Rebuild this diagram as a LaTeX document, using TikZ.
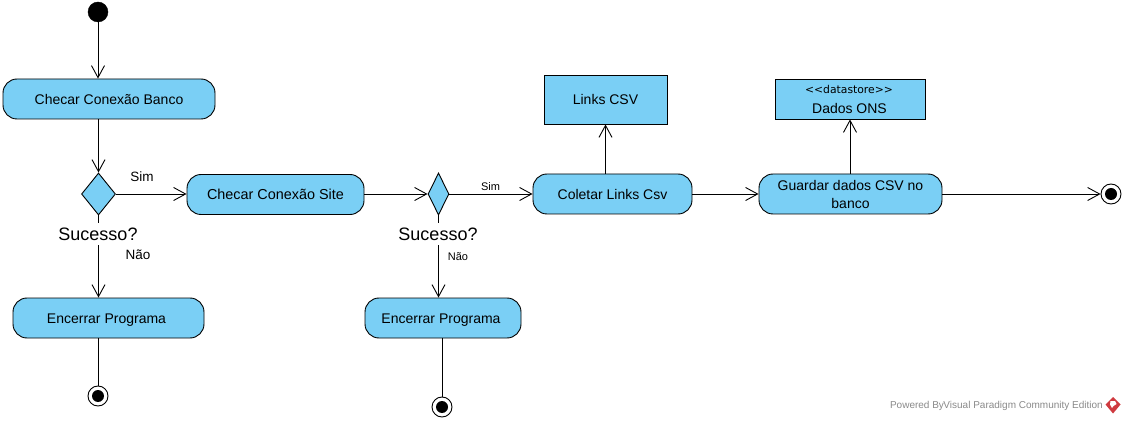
\documentclass[tikz,border=0pt]{standalone}
\usepackage{fontspec}
\setmainfont{Liberation Sans}
\newfontfamily\dvfont{DejaVu Sans}
\usetikzlibrary{arrows.meta,shapes.geometric}
\definecolor{vpblue}{HTML}{7ACFF5}
\definecolor{vpgray}{HTML}{8A8A8A}
\definecolor{vpred}{HTML}{CF3A3F}
\newcommand{\lowtext}[1]{\raisebox{-5.5pt}[0pt][0pt]{#1}}
\newcommand{\biglow}[1]{\raisebox{-6.5pt}[0pt][0pt]{#1}}
\tikzset{
  x=1pt,y=-1pt,
  edge/.style={draw=black,line width=0.9pt,-{Straight Barb[length=12pt,width=13pt,line width=0.9pt]}},
  plainedge/.style={draw=black,line width=0.9pt},
  action/.style={draw=black,fill=vpblue,line width=0.9pt,rounded corners=14pt,inner sep=0pt,font=\fontsize{14}{16}\selectfont,align=center,anchor=center},
  store/.style={draw=black,fill=vpblue,line width=0.9pt,inner sep=0pt,font=\fontsize{14}{16}\selectfont,align=center},
  decision/.style={draw=black,fill=vpblue,line width=0.9pt,diamond,inner sep=0pt,shape aspect=1},
  initnode/.style={circle,fill=black,draw=black,inner sep=0pt,minimum size=20pt},
  finalnode/.style={circle,draw=black,fill=white,line width=0.9pt,inner sep=0pt,minimum size=20pt},
  dot/.style={circle,fill=black,inner sep=0pt,minimum size=12pt},
  biglabel/.style={font=\fontsize{18}{20}\selectfont,inner sep=0pt,minimum width=80pt,minimum height=22pt},
  midlabel/.style={font=\fontsize{13.5}{15}\selectfont,inner sep=0pt},
  smalllabel/.style={font=\fontsize{11}{13}\selectfont,inner sep=0pt},
}
\begin{document}
\begin{tikzpicture}
\useasboundingbox[fill=white] (0,0) rectangle (1125,422);
% nodes
\node[initnode] (start) at (98,12) {};
\node[action,minimum width=212pt,minimum height=40pt] (banco) at (109,99) {\lowtext{Checar Conexão Banco}};
\node[decision,minimum width=34pt,minimum height=42pt] (d1) at (98.5,194) {};
\node[biglabel] (s1) at (98,234) {\biglow{Sucesso?}};
\node[midlabel] (sim1) at (142,176.5) {Sim};
\node[midlabel] (nao1) at (138,254.5) {Não};
\node[action,minimum width=191pt,minimum height=40pt] (enc1) at (108.5,318) {\lowtext{Encerrar Programa\kern4pt}};
\node[finalnode] (end1) at (98,396) {};
\node[dot] at (end1.center) {};
\node[action,minimum width=177pt,minimum height=40pt] (site) at (275.5,194.5) {\lowtext{\fontsize{14.4}{16}\selectfont Checar Conexão Site}};
\node[decision,minimum width=21pt,minimum height=42pt] (d2) at (438.5,194) {};
\node[biglabel] (s2) at (438,234) {\biglow{Sucesso?}};
\node[smalllabel] (sim2) at (490.5,186.5) {Sim};
\node[smalllabel] (nao2) at (458,256.5) {Não};
\node[action,minimum width=156pt,minimum height=40pt] (enc2) at (443,318) {\lowtext{Encerrar Programa\kern4pt}};
\node[finalnode] (end2) at (442,407) {};
\node[dot] at (end2.center) {};
\node[action,minimum width=159pt,minimum height=40pt] (coletar) at (612.5,194) {\lowtext{Coletar Links Csv}};
\node[store,minimum width=123pt,minimum height=49pt] (links) at (605.5,99.5) {\lowtext{Links CSV}};
\node[action,minimum width=183pt,minimum height=40pt] (guardar) at (850.5,194) {Guardar dados CSV no\\[2pt]banco};
\node[store,minimum width=150pt,minimum height=40pt] (dados) at (850,99) {};
\node[font=\dvfont\fontsize{10.8}{13}\selectfont,inner sep=0pt] (dstype) at (849,89) {<{}<datastore>{}>};
\node[font=\fontsize{14}{16}\selectfont,inner sep=0pt] (dsname) at (849.5,108.5) {Dados ONS};
\node[finalnode] (end3) at (1111,194) {};
\node[dot] at (end3.center) {};
% connectors
\draw[edge] (start) -- (start.south |- banco.north);
\draw[edge] (banco.south -| d1.north) -- (d1.north);
\draw[edge] (d1.east) -- (site.west |- d1.east);
\draw[plainedge] (d1.south) -- (d1.south |- s1.north);
\draw[edge] (s1.south -| d1.south) -- (d1.south |- enc1.north);
\draw[plainedge] (enc1.south -| end1.north) -- (end1.north);
\draw[edge] (site.east |- d2.west) -- (d2.west);
\draw[edge] (d2.east) -- (coletar.west |- d2.east);
\draw[plainedge] (d2.south) -- (d2.south |- s2.north);
\draw[edge] (s2.south -| d2.south) -- (d2.south |- enc2.north);
\draw[plainedge] (enc2.south -| end2.north) -- (end2.north);
\draw[edge] (coletar.north -| links.south) -- (links.south);
\draw[edge] (coletar.east |- coletar.center) -- (guardar.west);
\draw[edge] (guardar.north -| dados.south) -- (dados.south);
\draw[edge] (guardar.east) -- (end3.west);
% footer
\node[font=\fontsize{10}{12}\selectfont,text=vpgray,inner sep=0pt,anchor=east] (powered) at (1103,405.5) {Powered By\kern-0.5ptVisual Paradigm Community Edition};
\fill[vpred] (1113,397) -- (1120.5,404.5) -- (1113,413.5) -- (1105.5,404.5) -- cycle;
\fill[white] (1110.5,401) -- (1115,401) -- (1116.5,404) -- (1113.5,406) -- (1112,408) -- (1110,404.5) -- cycle;
\end{tikzpicture}
\end{document}
